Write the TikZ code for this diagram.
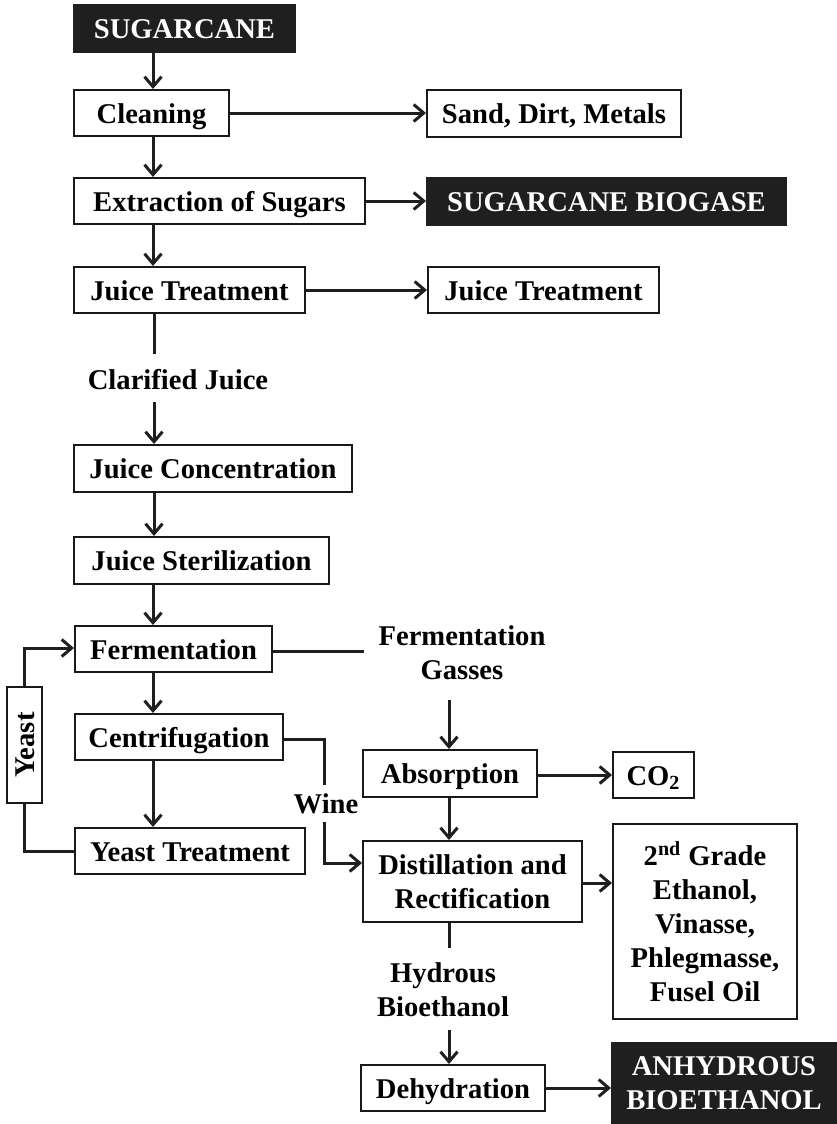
\documentclass[tikz,border=0pt]{standalone}
\usepackage{fontspec}
\setmainfont{Liberation Serif}
\usetikzlibrary{arrows.meta,calc}
\begin{document}
\begin{tikzpicture}[x=0.5pt,y=-0.5pt,
  every node/.style={font=\fontsize{14.3}{17}\selectfont\bfseries, inner sep=0pt, align=center},
  one/.style={text height=10pt, text depth=0pt},
  box/.style={draw=black!90, line width=1pt, fill=white},
  dark/.style={fill=black!88, draw=black!88, line width=1pt, text=white},
  lab/.style={},
  arr/.style={line width=1.5pt, draw=black!88, -{Straight Barb[length=5pt,width=8.5pt,line width=1.5pt]}},
  ln/.style={line width=1.5pt, draw=black!88}]
\useasboundingbox (0,0) rectangle (836,1124);
% main column nodes
\node[dark, one, minimum width=110.5pt, minimum height=23.5pt] (sug) at (184.5,28.5) {SUGARCANE};
\node[box, one, minimum width=77.5pt, minimum height=23pt] (clean) at (151.5,113) {Cleaning};
\node[box, one, minimum width=145.5pt, minimum height=23pt] (extr) at (219.5,201) {Extraction of Sugars};
\node[box, one, minimum width=115.5pt, minimum height=23pt] (jt) at (189.5,290) {Juice Treatment};
\node[lab, one] (clar) at (178,379) {Clarified Juice};
\node[box, one, minimum width=139pt, minimum height=23.5pt] (conc) at (213,468.5) {Juice Concentration};
\node[box, one, minimum width=127.5pt, minimum height=23.5pt] (ster) at (201.5,560.5) {Juice Sterilization};
\node[box, one, minimum width=98.5pt, minimum height=23pt] (ferm) at (173.5,649) {Fermentation};
\node[box, one, minimum width=104pt, minimum height=23pt] (cent) at (179,737) {Centrifugation};
\node[box, one, minimum width=115pt, minimum height=23pt] (yt) at (190,851) {Yeast Treatment};
\node[box, one, minimum width=58pt, minimum height=17.5pt, rotate=90] (yeast) at (24.5,745) {Yeast};
% right side
\node[box, one, minimum width=127pt, minimum height=23.5pt] (sand) at (554,113.5) {Sand, Dirt, Metals};
\node[dark, one, minimum width=179.5pt, minimum height=23.5pt] (biog) at (606.5,201.5) {SUGARCANE BIOGASE};
\node[box, one, minimum width=115.5pt, minimum height=23pt] (jt2) at (543.5,290) {Juice Treatment};
\node[lab] (fgas) at (462,653) {Fermentation\\Gasses};
\node[box, one, minimum width=87pt, minimum height=23.5pt] (abs) at (450,773.5) {Absorption};
\node[box, one, minimum width=40.5pt, minimum height=23pt] (co2) at (653.5,775) {CO\textsubscript{2}};
\node[lab, one] (wine) at (326,803) {Wine};
\node[box, minimum width=109.5pt, minimum height=40.5pt] (dist) at (472.5,881.5) {Distillation and\\Rectification};
\node[box, minimum width=92pt, minimum height=97.5pt] (big) at (705,921.5) {2\textsuperscript{nd} Grade\\Ethanol,\\Vinasse,\\Phlegmasse,\\Fusel Oil};
\node[lab] (hyd) at (443,990) {Hydrous\\Bioethanol};
\node[box, one, minimum width=92pt, minimum height=23pt] (dehy) at (453,1088) {Dehydration};
\node[dark, minimum width=112pt, minimum height=40.5pt] (anh) at (724,1083.5) {ANHYDROUS\\BIOETHANOL};
% helper coordinates
\coordinate (mx) at (153,0);
\coordinate (dx) at (449,0);
\coordinate (clarTop) at (154,354);
\coordinate (clarBot) at (154,402);
\coordinate (fgEnd) at (364,651);
\coordinate (fgBot) at (449,700);
\coordinate (wTop) at (324,785);
\coordinate (wBot) at (324,822);
\coordinate (wCorner) at (324,863);
\coordinate (hTop) at (449,948);
\coordinate (hBot) at (449,1030);
% main column connectors
\draw[arr] (sug.south -| mx) -- (clean.north -| mx);
\draw[arr] (clean.south -| mx) -- (extr.north -| mx);
\draw[arr] (extr.south -| mx) -- (jt.north -| mx);
\draw[ln] (jt.south -| clarTop) -- (clarTop);
\draw[arr] (clarBot) -- (conc.north -| clarBot);
\draw[arr] (conc.south -| clarBot) -- (ster.north -| clarBot);
\draw[arr] (ster.south -| mx) -- (ferm.north -| mx);
\draw[arr] (ferm.south -| mx) -- (cent.north -| mx);
\draw[arr] (cent.south -| mx) -- (yt.north -| mx);
% side outputs
\draw[arr] (clean.east) -- (sand.west |- clean.east);
\draw[arr] (extr.east) -- (biog.west |- extr.east);
\draw[arr] (jt.east) -- (jt2.west |- jt.east);
% yeast loop
\draw[ln] (yt.west) -| (yeast.west);
\draw[arr] (yeast.east) |- ($(ferm.west)+(0,-1)$);
% fermentation gasses
\draw[ln] (ferm.east |- fgEnd) -- (fgEnd);
\draw[arr] (fgBot) -- (abs.north -| fgBot);
\draw[arr] (abs.east |- co2.west) -- (co2.west);
\draw[arr] (abs.south -| dx) -- (dist.north -| dx);
% wine
\draw[ln] (cent.east |- 0,739) -| (wTop);
\draw[arr] (wBot) |- (dist.west |- wCorner);
% distillation outputs
\draw[arr] (dist.east |- 0,883) -- (big.west |- 0,883);
\draw[ln] (dist.south -| hTop) -- (hTop);
\draw[arr] (hBot) -- (dehy.north -| hBot);
\draw[arr] (dehy.east) -- (anh.west |- dehy.east);
\end{tikzpicture}
\end{document}
